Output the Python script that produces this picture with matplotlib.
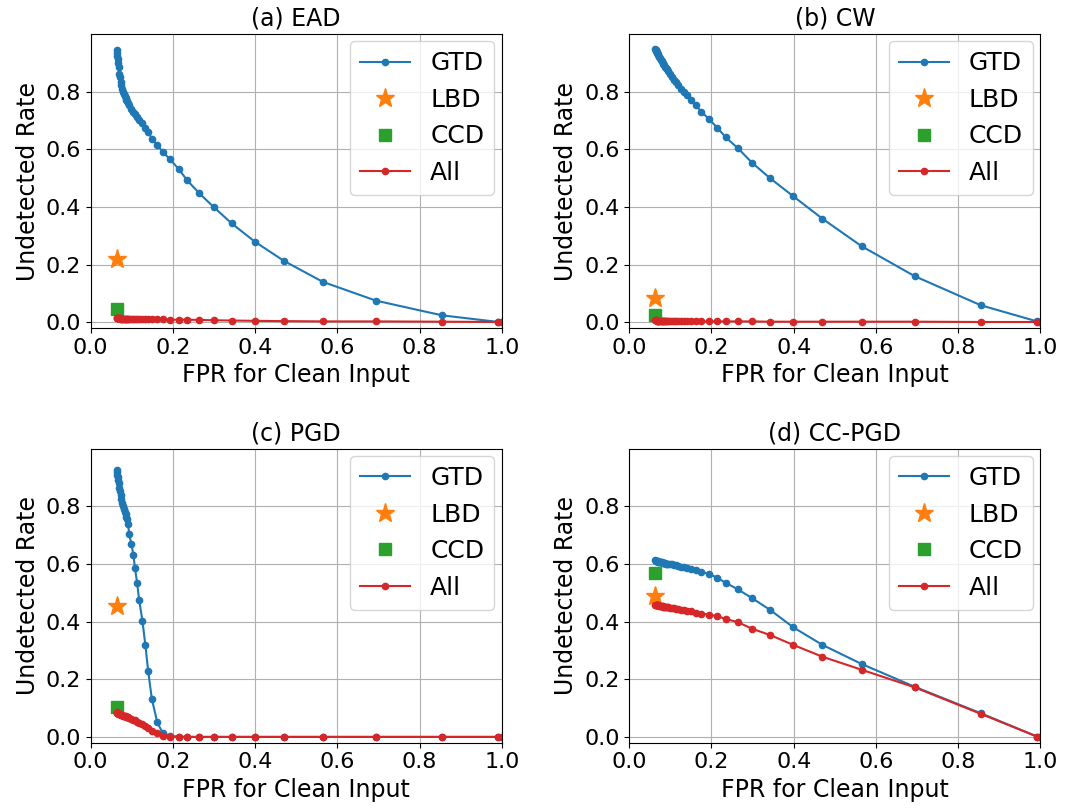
import matplotlib.pyplot as plt

# shared FPR thresholds (x axis)
fpr = [0.063, 0.064, 0.065, 0.066, 0.067, 0.068, 0.070, 0.071, 0.073, 0.075,
       0.077, 0.079, 0.081, 0.083, 0.085, 0.087, 0.089, 0.091, 0.094, 0.099,
       0.104, 0.108, 0.113, 0.118, 0.126, 0.133, 0.140, 0.149, 0.162, 0.175,
       0.193, 0.214, 0.235, 0.264, 0.299, 0.343, 0.399, 0.470, 0.565, 0.694,
       0.855, 0.992, 1.0]

titles = ['(a) EAD', '(b) CW', '(c) PGD', '(d) CC-PGD']

# GTD undetected rate per attack
gtd_ead = [0.944, 0.935, 0.925, 0.912, 0.898, 0.885, 0.862, 0.850, 0.835, 0.822,
           0.810, 0.800, 0.792, 0.785, 0.778, 0.771, 0.766, 0.760, 0.752, 0.740,
           0.730, 0.722, 0.712, 0.702, 0.690, 0.675, 0.660, 0.637, 0.615, 0.592,
           0.565, 0.532, 0.492, 0.448, 0.400, 0.343, 0.280, 0.213, 0.140, 0.075,
           0.024, 0.001, 0.0]
gtd_cw = [0.949, 0.946, 0.943, 0.940, 0.937, 0.934, 0.929, 0.926, 0.921, 0.916,
          0.911, 0.906, 0.901, 0.896, 0.891, 0.887, 0.882, 0.877, 0.870, 0.860,
          0.850, 0.842, 0.832, 0.822, 0.810, 0.800, 0.790, 0.772, 0.752, 0.731,
          0.706, 0.675, 0.641, 0.604, 0.553, 0.499, 0.437, 0.359, 0.264, 0.160,
          0.059, 0.003, 0.0]
gtd_pgd = [0.927, 0.920, 0.910, 0.900, 0.890, 0.880, 0.862, 0.853, 0.838, 0.825,
           0.812, 0.800, 0.790, 0.780, 0.772, 0.764, 0.755, 0.738, 0.703, 0.669,
           0.632, 0.585, 0.535, 0.475, 0.403, 0.320, 0.228, 0.131, 0.051, 0.014,
           0.003, 0.001, 0.0, 0.0, 0.0, 0.0, 0.0, 0.0, 0.0, 0.0,
           0.0, 0.0, 0.0]
gtd_ccpgd = [0.612, 0.611, 0.611, 0.610, 0.610, 0.609, 0.609, 0.608, 0.607, 0.607,
             0.606, 0.605, 0.604, 0.604, 0.603, 0.602, 0.601, 0.601, 0.600, 0.599,
             0.598, 0.596, 0.595, 0.593, 0.591, 0.588, 0.586, 0.583, 0.578, 0.573,
             0.566, 0.552, 0.534, 0.512, 0.481, 0.440, 0.380, 0.319, 0.253, 0.174,
             0.082, 0.001, 0.0]

# All (combined) undetected rate per attack
all_ead = [0.016, 0.015, 0.015, 0.015, 0.014, 0.014, 0.014, 0.014, 0.013, 0.013,
           0.013, 0.013, 0.013, 0.012, 0.012, 0.012, 0.012, 0.012, 0.012, 0.011,
           0.011, 0.011, 0.011, 0.011, 0.011, 0.010, 0.010, 0.010, 0.010, 0.010,
           0.009, 0.009, 0.009, 0.008, 0.007, 0.006, 0.005, 0.004, 0.003, 0.003,
           0.002, 0.001, 0.0]
all_cw = [0.008, 0.007, 0.007, 0.007, 0.006, 0.006, 0.006, 0.005, 0.005, 0.005,
          0.005, 0.004, 0.004, 0.004, 0.004, 0.004, 0.004, 0.003, 0.003, 0.003,
          0.003, 0.003, 0.003, 0.003, 0.003, 0.003, 0.003, 0.003, 0.003, 0.003,
          0.003, 0.003, 0.003, 0.003, 0.003, 0.002, 0.002, 0.002, 0.002, 0.002,
          0.001, 0.001, 0.0]
all_pgd = [0.086, 0.084, 0.083, 0.082, 0.081, 0.080, 0.079, 0.078, 0.077, 0.076,
           0.075, 0.074, 0.073, 0.072, 0.071, 0.070, 0.069, 0.068, 0.066, 0.063,
           0.060, 0.057, 0.053, 0.049, 0.043, 0.037, 0.030, 0.022, 0.012, 0.004,
           0.001, 0.0, 0.0, 0.0, 0.0, 0.0, 0.0, 0.0, 0.0, 0.0,
           0.0, 0.0, 0.0]
all_ccpgd = [0.459, 0.459, 0.458, 0.458, 0.457, 0.457, 0.456, 0.456, 0.455, 0.455,
             0.454, 0.453, 0.453, 0.452, 0.452, 0.451, 0.450, 0.450, 0.449, 0.448,
             0.447, 0.446, 0.445, 0.443, 0.441, 0.439, 0.437, 0.435, 0.431, 0.428,
             0.424, 0.419, 0.409, 0.398, 0.375, 0.353, 0.319, 0.278, 0.233, 0.172,
             0.080, 0.001, 0.0]

# single-point detectors (FPR, undetected rate)
lbd_fpr = [0.063, 0.063, 0.063, 0.063]
lbd_rate = [0.220, 0.085, 0.455, 0.488]
ccd_fpr = [0.063, 0.063, 0.063, 0.063]
ccd_rate = [0.047, 0.024, 0.105, 0.567]

gtd_all = [gtd_ead, gtd_cw, gtd_pgd, gtd_ccpgd]
all_all = [all_ead, all_cw, all_pgd, all_ccpgd]

fig, axes = plt.subplots(2, 2, figsize=(10.66, 8.09), dpi=100)
plt.subplots_adjust(left=0.085, right=0.976, bottom=0.082, top=0.958,
                    wspace=0.31, hspace=0.41)

for i, ax in enumerate(axes.flat):
    ax.plot(fpr, gtd_all[i], marker='o', markersize=4.5, color='tab:blue', label='GTD')
    ax.plot(lbd_fpr[i], lbd_rate[i], marker='*', markersize=14,
            linestyle='None', color='tab:orange', label='LBD')
    ax.plot(ccd_fpr[i], ccd_rate[i], marker='s', markersize=9,
            linestyle='None', color='tab:green', label='CCD')
    ax.plot(fpr, all_all[i], marker='o', markersize=4.5, color='tab:red', label='All')
    ax.set_xlim(0, 1.0)
    ax.set_ylim(-0.02, 1.0)
    ax.set_yticks([0.0, 0.2, 0.4, 0.6, 0.8])
    ax.set_title(titles[i], fontsize=17)
    ax.set_xlabel('FPR for Clean Input', fontsize=17)
    ax.set_ylabel('Undetected Rate', fontsize=17)
    ax.tick_params(labelsize=16)
    ax.grid(True)
    ax.legend(loc='upper right', fontsize=18, borderaxespad=0.3)

plt.savefig('out.png')
